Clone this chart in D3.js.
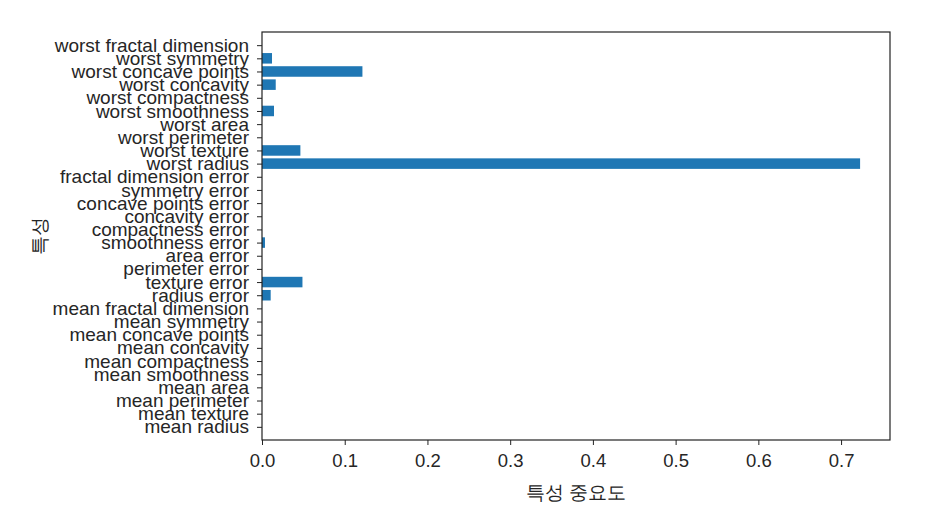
<!DOCTYPE html>
<html>
<head>
<meta charset="utf-8">
<script src="https://cdn.jsdelivr.net/npm/d3@7"></script>
<style>
	body { margin: 0; background: #fff; }
	svg text { font-family: "Liberation Sans", Arial, sans-serif; fill: #262626; }
	.tick line, .domain { stroke: #222; }
</style>
</head>
<body>
<svg id="plot" width="927" height="513"></svg>
<script>
// feature names, bottom to top
var featureNames = [
	'mean radius', 'mean texture', 'mean perimeter', 'mean area', 'mean smoothness',
	'mean compactness', 'mean concavity', 'mean concave points', 'mean symmetry', 'mean fractal dimension',
	'radius error', 'texture error', 'perimeter error', 'area error', 'smoothness error',
	'compactness error', 'concavity error', 'concave points error', 'symmetry error', 'fractal dimension error',
	'worst radius', 'worst texture', 'worst perimeter', 'worst area', 'worst smoothness',
	'worst compactness', 'worst concavity', 'worst concave points', 'worst symmetry', 'worst fractal dimension'
];
var importances = [
	0, 0, 0, 0, 0, 0, 0, 0, 0, 0,
	0.0105, 0.0489, 0, 0, 0.0036, 0, 0, 0, 0, 0,
	0.723, 0.0464, 0, 0, 0.0145, 0, 0.0166, 0.1214, 0.0121, 0
];
var xTicks = [0, 0.1, 0.2, 0.3, 0.4, 0.5, 0.6, 0.7];
var xLabel = '특성 중요도';
var yLabel = '특성';

function main() {
	var svg = d3.select('#plot');
	var left = 262, right = 890, top = 32, bottom = 440;

	// matplotlib pads the x axis by 5% past the longest bar, ylim is (-1, n)
	var xMapper = d3.scaleLinear()
		.domain([0, d3.max(importances) * 1.05])
		.range([left, right]);
	var yMapper = d3.scaleLinear()
		.domain([-1, featureNames.length])
		.range([bottom, top]);
	var barHeight = Math.abs(yMapper(0.8) - yMapper(0));

	var data = featureNames.map(function(name, i) { return {name: name, i: i, v: importances[i]}; });

	svg.append('g').selectAll('rect').data(data).enter().append('rect')
		.attr('x', xMapper(0))
		.attr('y', function(d) { return yMapper(d.i) - barHeight / 2; })
		.attr('width', function(d) { return xMapper(d.v) - xMapper(0); })
		.attr('height', barHeight)
		.attr('fill', '#1f77b4');

	var xAxis = svg.append('g')
		.attr('transform', 'translate(0,' + bottom + ')')
		.call(d3.axisBottom(xMapper).tickValues(xTicks).tickFormat(d3.format('.1f')).tickSize(5).tickPadding(9));
	xAxis.selectAll('text').style('font-size', '18.5px');
	xAxis.select('.domain').remove();

	var yAxis = svg.append('g')
		.attr('transform', 'translate(' + left + ',0)')
		.call(d3.axisLeft(yMapper)
			.tickValues(d3.range(featureNames.length))
			.tickFormat(function(i) { return featureNames[i]; })
			.tickSize(5).tickPadding(8));
	yAxis.selectAll('text').style('font-size', '19px');
	yAxis.select('.domain').remove();

	// frame
	svg.append('rect')
		.attr('x', left).attr('y', top)
		.attr('width', right - left).attr('height', bottom - top)
		.attr('fill', 'none').attr('stroke', '#222').attr('stroke-width', 1.2);

	svg.append('text')
		.attr('x', (left + right) / 2).attr('y', 499)
		.attr('text-anchor', 'middle')
		.style('font-size', '18.5px')
		.text(xLabel);

	svg.append('text')
		.attr('transform', 'translate(46,' + (top + bottom) / 2 + ') rotate(-90)')
		.attr('text-anchor', 'middle')
		.style('font-size', '18.5px')
		.text(yLabel);
}

main();
</script>
</body>
</html>
